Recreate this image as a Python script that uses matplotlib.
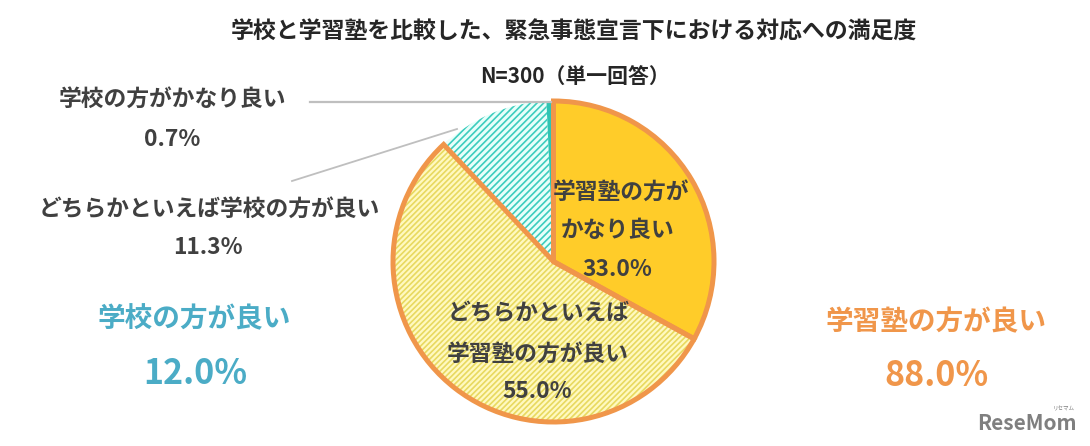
import matplotlib
matplotlib.use("Agg")
import matplotlib.pyplot as plt

plt.rcParams['font.family'] = ['Noto Sans CJK JP', 'DejaVu Sans']
plt.rcParams['hatch.linewidth'] = 1.2

title = "学校と学習塾を比較した、緊急事態宣言下における対応への満足度"
subtitle = "N=300（単一回答）"
shares = [33.0, 55.0, 11.3, 0.7]
fills = ["#FFCC29", "#FFF9C0", "#E8FFFA", "#2FC4B2"]
hatches = ["#FFCC29", "#E8D95F", "#3CCDBE", "#2FC4B2"]
hatch_styles = ["", "//////", "/////", ""]
outlines = ["#F0964A", "#F0964A", "none", "none"]

DARK = "#404040"
ORANGE = "#F0964A"
BLUE = "#4BACC6"

fig = plt.figure(figsize=(10.9, 4.46), dpi=100)
ax = fig.add_axes([0, 0, 1, 1])


def ypx(y):
    # picture measured from the top, axes from the bottom
    return 446 - y


# hatched fill first, then the outline on top of it
wedges, _ = ax.pie(shares, startangle=90, counterclock=False, center=(553.5, ypx(261.5)), radius=160.5,
                   colors=fills)
for w, h, st in zip(wedges, hatches, hatch_styles):
    w.set_edgecolor(h)
    w.set_hatch(st)
    w.set_linewidth(0)
line_wedges, _ = ax.pie(shares, startangle=90, counterclock=False, center=(553.5, ypx(261.5)), radius=160.5,
                        colors=["none"] * 4)
for w, c in zip(line_wedges, outlines):
    w.set_edgecolor(c)
    w.set_linewidth(3.6)
    w.set_joinstyle("miter")

ax.set_xlim(0, 1090)
ax.set_ylim(0, 446)
ax.set_aspect("equal")
ax.axis("off")

# leader lines
ax.plot([310, 551], [ypx(102), ypx(102)], color="#BFBFBF", lw=1.6)
ax.plot([292, 457], [ypx(181), ypx(129)], color="#BFBFBF", lw=1.3)

ax.text(574, ypx(32), title, ha="center", va="center", fontsize=16.5, fontweight="bold", color="#262626")
ax.text(575, ypx(77), subtitle, ha="center", va="center", fontsize=15, fontweight="bold", color="#262626")

labels = [
    (173, 99, "学校の方がかなり良い"),
    (172, 140, "0.7%"),
    (209, 209, "どちらかといえば学校の方が良い"),
    (208, 248, "11.3%"),
    (621, 192, "学習塾の方が"),
    (618, 230, "かなり良い"),
    (617, 269, "33.0%"),
    (539, 314, "どちらかといえば"),
    (538, 354, "学習塾の方が良い"),
    (537, 392, "55.0%"),
]
for x, y, s in labels:
    ax.text(x, ypx(y), s, ha="center", va="center", fontsize=16.4, fontweight="bold", color=DARK)

ax.text(194, ypx(319), "学校の方が良い", ha="center", va="center", fontsize=19.9, fontweight="bold", color=BLUE)
ax.text(195, ypx(373), "12.0%", ha="center", va="center", fontsize=24.5, fontweight="bold", color=BLUE)
ax.text(936, ypx(322), "学習塾の方が良い", ha="center", va="center", fontsize=19.9, fontweight="bold", color=ORANGE)
ax.text(936, ypx(375), "88.0%", ha="center", va="center", fontsize=24.5, fontweight="bold", color=ORANGE)

ax.text(1077, ypx(424), "ReseMom", ha="right", va="center", fontsize=15, fontweight="bold", color="#7F7F7F")
ax.text(1075, ypx(409), "リセマム", ha="right", va="center", fontsize=4, color="#7F7F7F")

fig.savefig("out.png", dpi=100)
